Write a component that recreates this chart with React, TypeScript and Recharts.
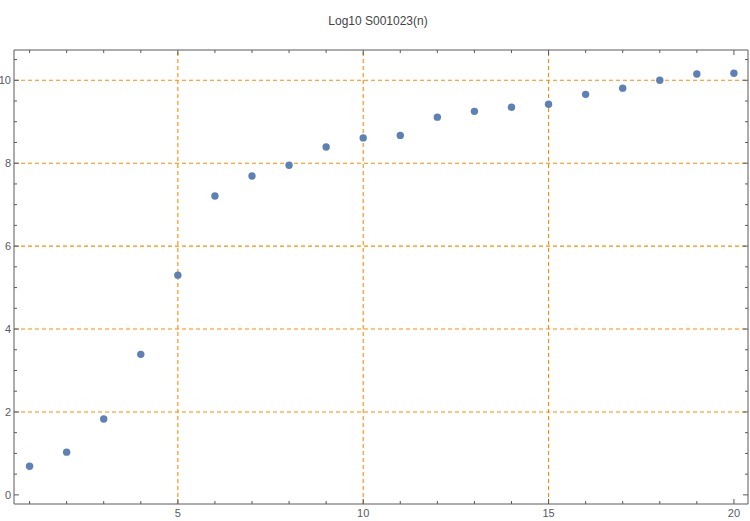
import React from "react";
import {
  ScatterChart,
  Scatter,
  XAxis,
  YAxis,
  ReferenceLine,
} from "recharts";

const nValues = [1, 2, 3, 4, 5, 6, 7, 8, 9, 10, 11, 12, 13, 14, 15, 16, 17, 18, 19, 20];
const logValues = [0.69, 1.03, 1.83, 3.39, 5.3, 7.21, 7.69, 7.95, 8.39, 8.61, 8.67, 9.11, 9.25, 9.35, 9.42, 9.66, 9.81, 10.0, 10.15, 10.17];
const xTicks = [1, 2, 3, 4, 5, 6, 7, 8, 9, 10, 11, 12, 13, 14, 15, 16, 17, 18, 19, 20];
const xLabeled = [5, 10, 15, 20];
const yTicks = [0, 0.5, 1, 1.5, 2, 2.5, 3, 3.5, 4, 4.5, 5, 5.5, 6, 6.5, 7, 7.5, 8, 8.5, 9, 9.5, 10, 10.5];
const yLabeled = [0, 2, 4, 6, 8, 10];
const xGrid = [5, 10, 15];
const yGrid = [2, 4, 6, 8, 10];
const title = "Log10 S001023(n)";

const data = nValues.map((n, i) => ({ n, v: logValues[i] }));

const X_DOMAIN: [number, number] = [0.58, 20.38];
const Y_DOMAIN: [number, number] = [-0.22, 10.73];

const FRAME = "#5a5a5a";
const LABEL = "#555a66";
const GRID = "#ff8c00";
const FONT = "'Liberation Sans', Arial, sans-serif";

const BottomTick = (props: any) => {
  const { x, y, payload } = props;
  const major = xLabeled.includes(payload.value);
  return (
    <g>
      <line x1={x} y1={y} x2={x} y2={y - (major ? 5 : 3)} stroke={FRAME} strokeWidth={1} />
      {major && (
        <text x={x} y={y + 13} textAnchor="middle" fontSize={11} fill={LABEL} fontFamily={FONT}>
          {payload.value}
        </text>
      )}
    </g>
  );
};

const TopTick = (props: any) => {
  const { x, y, payload } = props;
  const major = xLabeled.includes(payload.value);
  return <line x1={x} y1={y} x2={x} y2={y + (major ? 5 : 3)} stroke={FRAME} strokeWidth={1} />;
};

const LeftTick = (props: any) => {
  const { x, y, payload } = props;
  const major = yLabeled.includes(payload.value);
  return (
    <g>
      <line x1={x} y1={y} x2={x + (major ? 5 : 3)} y2={y} stroke={FRAME} strokeWidth={1} />
      {major && (
        <text x={x - 3} y={y + 4} textAnchor="end" fontSize={11} fill={LABEL} fontFamily={FONT}>
          {payload.value}
        </text>
      )}
    </g>
  );
};

const RightTick = (props: any) => {
  const { x, y, payload } = props;
  const major = yLabeled.includes(payload.value);
  return <line x1={x} y1={y} x2={x - (major ? 5 : 3)} y2={y} stroke={FRAME} strokeWidth={1} />;
};

const Dot = (props: any) => {
  const { cx, cy } = props;
  return <circle cx={cx} cy={cy} r={3.7} fill="#5e81b5" />;
};

export default function App() {
  return (
    <div style={{ position: "absolute", left: 0, top: 0, width: 750, height: 521, background: "#fff" }}>
      <svg width={750} height={40} style={{ position: "absolute", left: 0, top: 0 }}>
        <text x={378} y={25} textAnchor="middle" fontSize={12} fill="#444" fontFamily={FONT}>
          {title}
        </text>
      </svg>
      <ScatterChart
        width={750}
        height={521}
        margin={{ top: 49, right: 1, left: 0, bottom: 0 }}
        style={{ position: "absolute", left: 0, top: 0 }}
      >
        <XAxis
          xAxisId="main"
          type="number"
          dataKey="n"
          domain={X_DOMAIN}
          allowDataOverflow
          ticks={xTicks}
          interval={0}
          height={17}
          tickSize={0}
          tickMargin={0}
          tickLine={false}
          axisLine={{ stroke: FRAME, strokeWidth: 1 }}
          tick={<BottomTick />}
        />
        <XAxis
          xAxisId="top"
          orientation="top"
          type="number"
          dataKey="n"
          domain={X_DOMAIN}
          allowDataOverflow
          ticks={xTicks}
          interval={0}
          height={1}
          tickSize={0}
          tickMargin={0}
          tickLine={false}
          axisLine={{ stroke: FRAME, strokeWidth: 1 }}
          tick={<TopTick />}
        />
        <YAxis
          yAxisId="main"
          type="number"
          dataKey="v"
          domain={Y_DOMAIN}
          allowDataOverflow
          ticks={yTicks}
          interval={0}
          width={14}
          tickSize={0}
          tickMargin={0}
          tickLine={false}
          axisLine={{ stroke: FRAME, strokeWidth: 1 }}
          tick={<LeftTick />}
        />
        <YAxis
          yAxisId="right"
          orientation="right"
          type="number"
          dataKey="v"
          domain={Y_DOMAIN}
          allowDataOverflow
          ticks={yTicks}
          interval={0}
          width={1}
          tickSize={0}
          tickMargin={0}
          tickLine={false}
          axisLine={{ stroke: FRAME, strokeWidth: 1 }}
          tick={<RightTick />}
        />
        {xGrid.map((g) => (
          <ReferenceLine
            key={"x" + g}
            x={g}
            xAxisId="main"
            yAxisId="main"
            stroke={GRID}
            strokeWidth={1.1}
            strokeDasharray="4 3"
          />
        ))}
        {yGrid.map((g) => (
          <ReferenceLine
            key={"y" + g}
            y={g}
            xAxisId="main"
            yAxisId="main"
            stroke={GRID}
            strokeWidth={1.1}
            strokeDasharray="4 3"
          />
        ))}
        <Scatter
          data={data}
          xAxisId="main"
          yAxisId="main"
          shape={<Dot />}
          isAnimationActive={false}
        />
        <Scatter
          data={data}
          xAxisId="top"
          yAxisId="right"
          shape={() => null}
          isAnimationActive={false}
        />
      </ScatterChart>
    </div>
  );
}
